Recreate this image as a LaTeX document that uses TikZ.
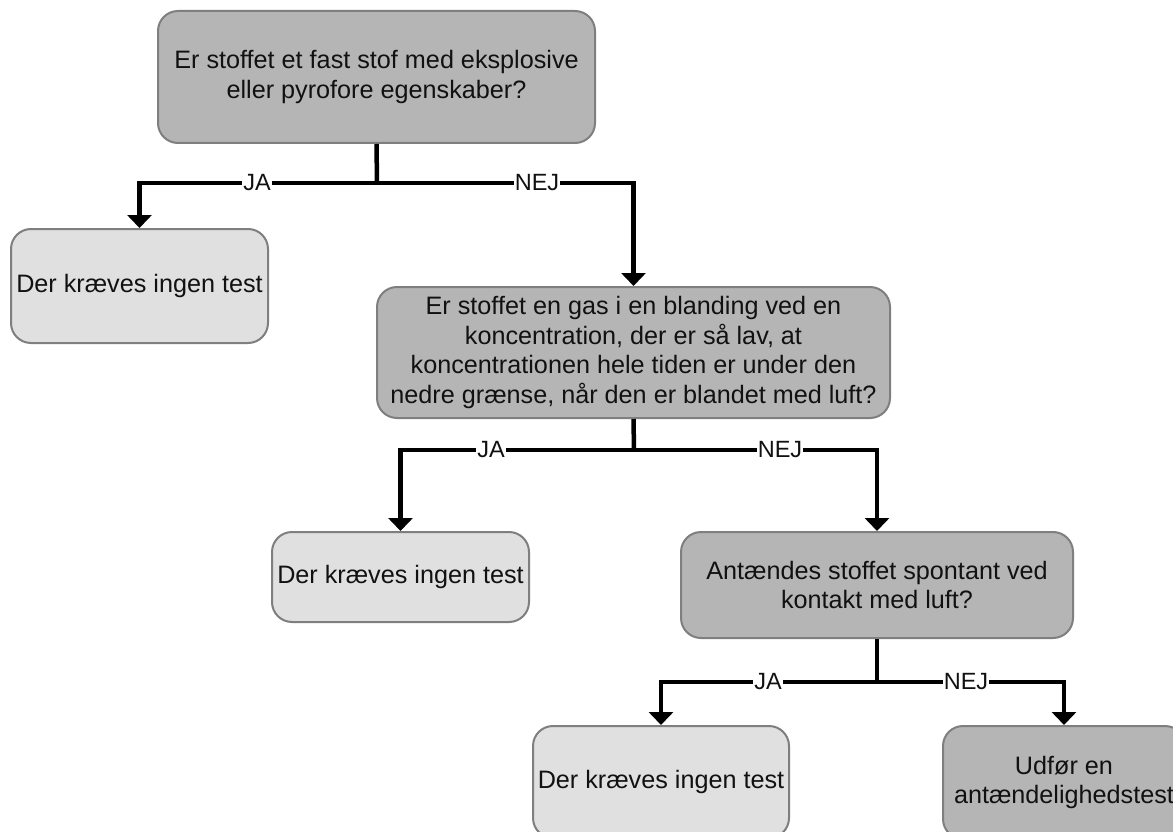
\documentclass[tikz,border=0pt]{standalone}
\usepackage{fontspec}
\setmainfont{Liberation Sans}
\usetikzlibrary{arrows.meta}
\definecolor{boxdark}{HTML}{B5B5B5}
\definecolor{boxlight}{HTML}{E0E0E0}
\definecolor{boxedge}{HTML}{7F7F7F}
\definecolor{ink}{HTML}{111111}
\tikzset{
  box/.style={draw=boxedge, line width=2pt, rounded corners=20pt,
    align=center, text=ink, inner sep=0pt,
    font=\fontsize{25.2}{29.7}\selectfont},
  question/.style={box, fill=boxdark},
  result/.style={box, fill=boxlight},
  flow/.style={line width=4.5pt, draw=black,
    -{Triangle[length=13pt,width=24pt]}},
  stem/.style={line width=4.5pt, draw=black},
  lbl/.style={fill=white, inner xsep=1pt, inner ysep=0pt, text=ink,
    font=\fontsize{23.5}{26}\selectfont}
}
\begin{document}
\begin{tikzpicture}[x=1pt,y=-1pt]
\useasboundingbox (0,0) rectangle (1173,832);
\fill[white] (0,0) rectangle (1173,832);
\clip (0,0) rectangle (1173,832);

% decision and outcome boxes
\node[question, minimum width=437pt, minimum height=132pt] (q1) at (376.5,77)
  {Er stoffet et fast stof med eksplosive\\eller pyrofore egenskaber?};
\node[result, minimum width=257pt, minimum height=114pt] (n1) at (139.5,286)
  {Der kræves ingen test};
\node[question, minimum width=513pt, minimum height=131pt] (q2) at (633.5,352.5)
  {Er stoffet en gas i en blanding ved en\\koncentration, der er så lav, at\\koncentrationen hele tiden er under den\\nedre grænse, når den er blandet med luft?};
\node[result, minimum width=257pt, minimum height=90pt] (n2) at (400.5,577)
  {Der kræves ingen test};
\node[question, minimum width=392pt, minimum height=106pt] (q3) at (877,585)
  {Antændes stoffet spontant ved\\kontakt med luft?};
\node[result, minimum width=256pt, minimum height=112pt] (n3) at (661,782)
  {Der kræves ingen test};
\node[question, minimum width=242pt, minimum height=113pt] (r1) at (1064,782.5)
  {Udfør en\\antændelighedstest};

% branch points
\coordinate (b1) at (377,183);
\coordinate (b2) at (634,450);
\coordinate (b3) at (877,682);

% connectors
\draw[stem] (q1.south) -- (b1);
\draw[flow] (b1) -| (n1.north);
\draw[flow] (b1) -| (q2.north);
\draw[stem] (q2.south) -- (b2);
\draw[flow] (b2) -| (n2.north);
\draw[flow] (b2) -| (q3.north);
\draw[stem] (q3.south) -- (b3);
\draw[flow] (b3) -| (n3.north);
\draw[flow] (b3) -| (r1.north);

% branch labels
\node[lbl] (ja1) at (257,183) {JA};
\node[lbl] (nej1) at (537,183) {NEJ};
\node[lbl] (ja2) at (491,450) {JA};
\node[lbl] (nej2) at (780,450) {NEJ};
\node[lbl] (ja3) at (768,682) {JA};
\node[lbl] (nej3) at (966,682) {NEJ};
\end{tikzpicture}
\end{document}
